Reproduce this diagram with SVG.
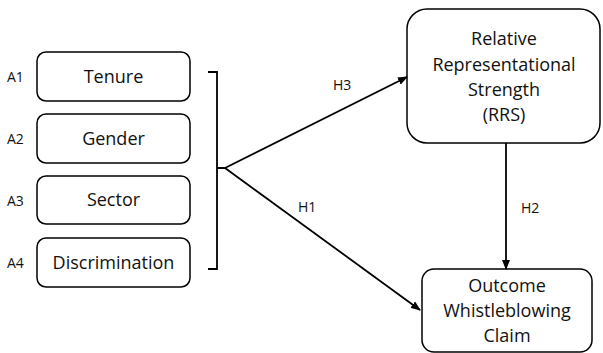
<svg xmlns="http://www.w3.org/2000/svg" width="603" height="353" viewBox="0 0 603 353">
<style>
.box{fill:#fff;stroke:#000;stroke-width:1.5}
.t{font-family:"Open Sans","Liberation Sans",sans-serif;font-size:18px;text-anchor:middle;fill:#111}
.s{font-family:"Open Sans","Liberation Sans",sans-serif;font-size:14px;fill:#111}
.c{fill:none;stroke:#000;stroke-width:1.8}
</style>
<defs>
<marker id="ah" markerWidth="10" markerHeight="8" refX="9" refY="4" orient="auto" markerUnits="userSpaceOnUse">
<path d="M0,0 L10,4 L0,8 Z" fill="#000"/>
</marker>
</defs>
<rect width="603" height="353" fill="#fff"/>
<g id="a1"><rect class="box" x="37" y="52" width="153" height="49" rx="9"/><text class="t" x="113.5" y="83">Tenure</text><text class="s" x="7" y="82">A1</text></g>
<g id="a2"><rect class="box" x="37" y="114" width="153" height="49" rx="9"/><text class="t" x="113.5" y="145">Gender</text><text class="s" x="7" y="144">A2</text></g>
<g id="a3"><rect class="box" x="37" y="176" width="153" height="48" rx="9"/><text class="t" x="113.5" y="206">Sector</text><text class="s" x="7" y="206">A3</text></g>
<g id="a4"><rect class="box" x="37" y="238" width="153" height="49" rx="9"/><text class="t" x="113.5" y="269">Discrimination</text><text class="s" x="7" y="268">A4</text></g>
<g id="rrs"><rect class="box" x="407" y="9" width="193" height="134" rx="20"/>
<text class="t" x="504" y="45">Relative</text><text class="t" x="504" y="71">Representational</text><text class="t" x="504" y="96">Strength</text><text class="t" x="504" y="121">(RRS)</text></g>
<g id="outcome"><rect class="box" x="422" y="269" width="170" height="83" rx="12"/>
<text class="t" x="507" y="292">Outcome</text><text class="t" x="507" y="317">Whistleblowing</text><text class="t" x="507" y="342">Claim</text></g>
<g id="connectors">
<path class="c" d="M208,72 H217 V269 H208 M217,168 H225"/>
<line class="c" x1="225" y1="168" x2="407" y2="77" marker-end="url(#ah)"/>
<line class="c" x1="225" y1="168" x2="420" y2="310" marker-end="url(#ah)"/>
<line class="c" x1="506" y1="143" x2="506" y2="269" marker-end="url(#ah)"/>
<text class="s" x="333" y="90">H3</text>
<text class="s" x="298" y="212">H1</text>
<text class="s" x="521" y="213">H2</text>
</g>
</svg>
